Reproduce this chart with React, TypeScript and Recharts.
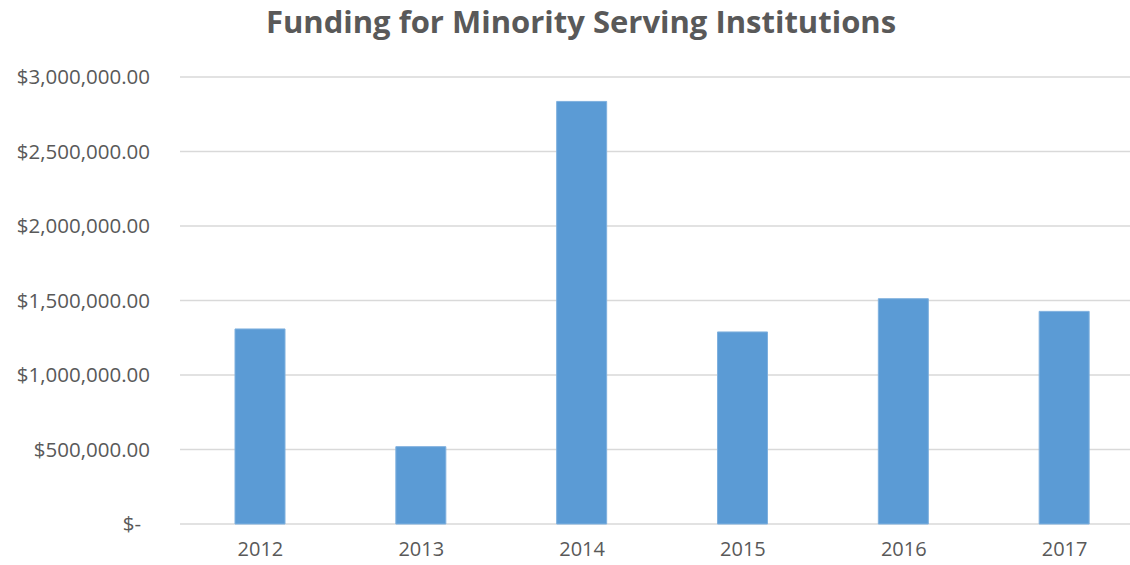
import { BarChart, Bar, XAxis, YAxis, CartesianGrid } from "recharts";

const years = ["2012", "2013", "2014", "2015", "2016", "2017"];
const funding = [1309000, 519000, 2836000, 1289000, 1512000, 1427000];
const yTicks = [0, 500000, 1000000, 1500000, 2000000, 2500000, 3000000];

const data = years.map((year, i) => ({ year, funding: funding[i] }));

const money = (v: number) =>
  v === 0
    ? "$-"
    : "$" +
      v.toLocaleString("en-US", { minimumFractionDigits: 2, maximumFractionDigits: 2 });

const font = "'Open Sans', sans-serif";

function YTick(props: any) {
  const { x, y, payload } = props;
  const shift = payload.value === 0 ? -9 : 0;
  return (
    <text
      x={x + shift}
      y={y}
      dy="0.35em"
      textAnchor="end"
      fill="#595959"
      fontSize={20.5}
      fontFamily={font}
    >
      {money(payload.value)}
    </text>
  );
}

export default function App() {
  return (
    <div
      style={{
        position: "absolute",
        left: 0,
        top: 0,
        width: 1130,
        height: 565,
        overflow: "hidden",
        background: "#fff",
      }}
    >
      <div
        style={{
          position: "absolute",
          left: 0,
          width: 1162,
          top: 0,
          textAlign: "center",
          fontFamily: font,
          fontWeight: 700,
          fontSize: 31,
          color: "#595959",
        }}
      >
        Funding for Minority Serving Institutions
      </div>
      <BarChart
        width={1160}
        height={565}
        data={data}
        margin={{ top: 77, right: 15, bottom: 0, left: 0 }}
      >
        <CartesianGrid vertical={false} stroke="#D9D9D9" strokeWidth={1.5} />
        <XAxis
          dataKey="year"
          axisLine={false}
          tickLine={false}
          tickSize={0}
          tickMargin={18}
          height={41}
          tick={{ fill: "#595959", fontSize: 20, fontFamily: font }}
        />
        <YAxis
          domain={[0, 3000000]}
          ticks={yTicks}
          interval={0}
          width={180}
          axisLine={false}
          tickLine={false}
          tickSize={0}
          tickMargin={30}
          tick={<YTick />}
        />
        <Bar
          dataKey="funding"
          barSize={50}
          fill="#5B9BD5"
          stroke="#7FB0DE"
          strokeWidth={1}
          isAnimationActive={false}
        />
      </BarChart>
    </div>
  );
}
